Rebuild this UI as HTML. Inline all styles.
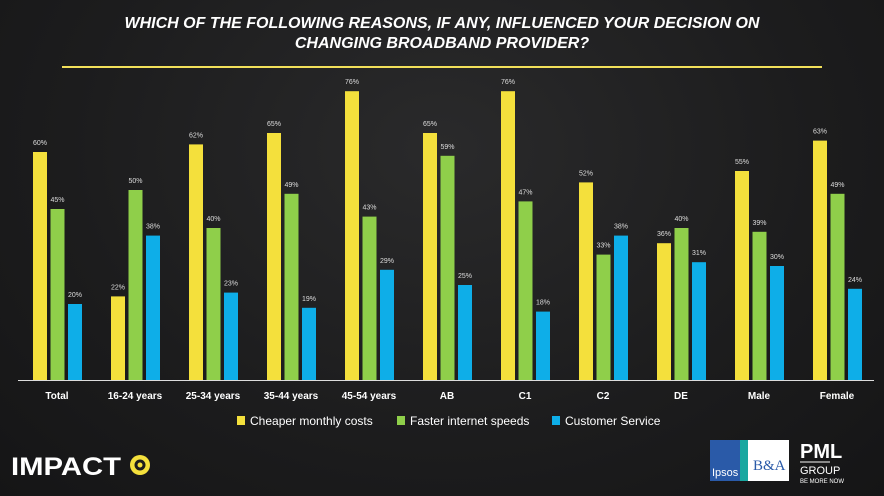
<!DOCTYPE html>
<html><head><style>
body{margin:0;width:884px;height:496px;overflow:hidden;background:radial-gradient(ellipse at 50% 30%,#2a2a2b 0%,#1c1c1d 60%,#151516 100%);font-family:"Liberation Sans",sans-serif;}
</style></head><body>
<svg width="884" height="496" xmlns="http://www.w3.org/2000/svg" style="position:absolute;left:0;top:0">
<text x="442" y="28" fill="#fff" font-size="16" font-weight="bold" font-style="italic" text-anchor="middle">WHICH OF THE FOLLOWING REASONS, IF ANY, INFLUENCED YOUR DECISION ON</text>
<text x="442" y="48" fill="#fff" font-size="16" font-weight="bold" font-style="italic" text-anchor="middle">CHANGING BROADBAND PROVIDER?</text>
<rect x="62" y="66" width="760" height="2" fill="#f2e05a"/>
<line x1="18" y1="380.5" x2="874" y2="380.5" stroke="#ddd" stroke-width="1"/>
<g id="bars"></g>
<g font-size="10" font-weight="bold" fill="#fff" text-anchor="middle" id="labels"></g>
<g font-size="12" fill="#fff">
<rect x="237" y="416" width="8" height="9" fill="#f4e03c"/><text x="250" y="425">Cheaper monthly costs</text>
<rect x="397" y="416" width="8" height="9" fill="#8fcf4a"/><text x="410" y="425">Faster internet speeds</text>
<rect x="552" y="416" width="8" height="9" fill="#0eaee8"/><text x="565" y="425">Customer Service</text>
</g>
<text x="11" y="475" fill="#fff" font-size="25" font-weight="bold" textLength="110" lengthAdjust="spacingAndGlyphs">IMPACT</text>
<circle cx="140" cy="465" r="10" fill="#f4e03c"/><circle cx="140" cy="465" r="5.5" fill="#1c1c1d"/><circle cx="140" cy="465" r="2.5" fill="#f4e03c"/>
<rect x="710" y="440" width="30" height="41" fill="#2a5aa8"/><rect x="740" y="440" width="8" height="41" fill="#19a7a0"/>
<text x="712" y="476" fill="#fff" font-size="11">Ipsos</text>
<rect x="748" y="440" width="41" height="41" fill="#fff"/><text x="753" y="470" fill="#2a5aa8" font-size="15" font-family="Liberation Serif">B&amp;A</text>
<text x="800" y="458" fill="#fff" font-size="20" font-weight="bold">PML</text>
<rect x="800" y="461" width="30" height="2" fill="#888"/>
<text x="800" y="474" fill="#fff" font-size="11">GROUP</text>
<text x="800" y="483" fill="#fff" font-size="6">BE MORE NOW</text>
</svg>
<script>
var d=[["Total",60,45,20],["16-24 years",22,50,38],["25-34 years",62,40,23],["35-44 years",65,49,19],["45-54 years",76,43,29],["AB",65,59,25],["C1",76,47,18],["C2",52,33,38],["DE",36,40,31],["Male",55,39,30],["Female",63,49,24]];
var c=["#f4e03c","#8fcf4a","#0eaee8"],ns="http://www.w3.org/2000/svg",b=document.getElementById("bars"),l=document.getElementById("labels");
d.forEach(function(g,i){var x0=33+78*i;for(var k=0;k<3;k++){var h=g[k+1]*3.8,x=x0+k*17.5;
var r=document.createElementNS(ns,"rect");r.setAttribute("x",x);r.setAttribute("y",380-h);r.setAttribute("width",14);r.setAttribute("height",h);r.setAttribute("fill",c[k]);b.appendChild(r);
var t=document.createElementNS(ns,"text");t.setAttribute("x",x+7);t.setAttribute("y",380-h-7);t.setAttribute("font-size","7");t.setAttribute("fill","#ddd");t.setAttribute("text-anchor","middle");t.textContent=g[k+1]+"%";b.appendChild(t);}
var t2=document.createElementNS(ns,"text");t2.setAttribute("x",x0+24);t2.setAttribute("y",399);t2.textContent=g[0];l.appendChild(t2);});
</script>
</body></html>
